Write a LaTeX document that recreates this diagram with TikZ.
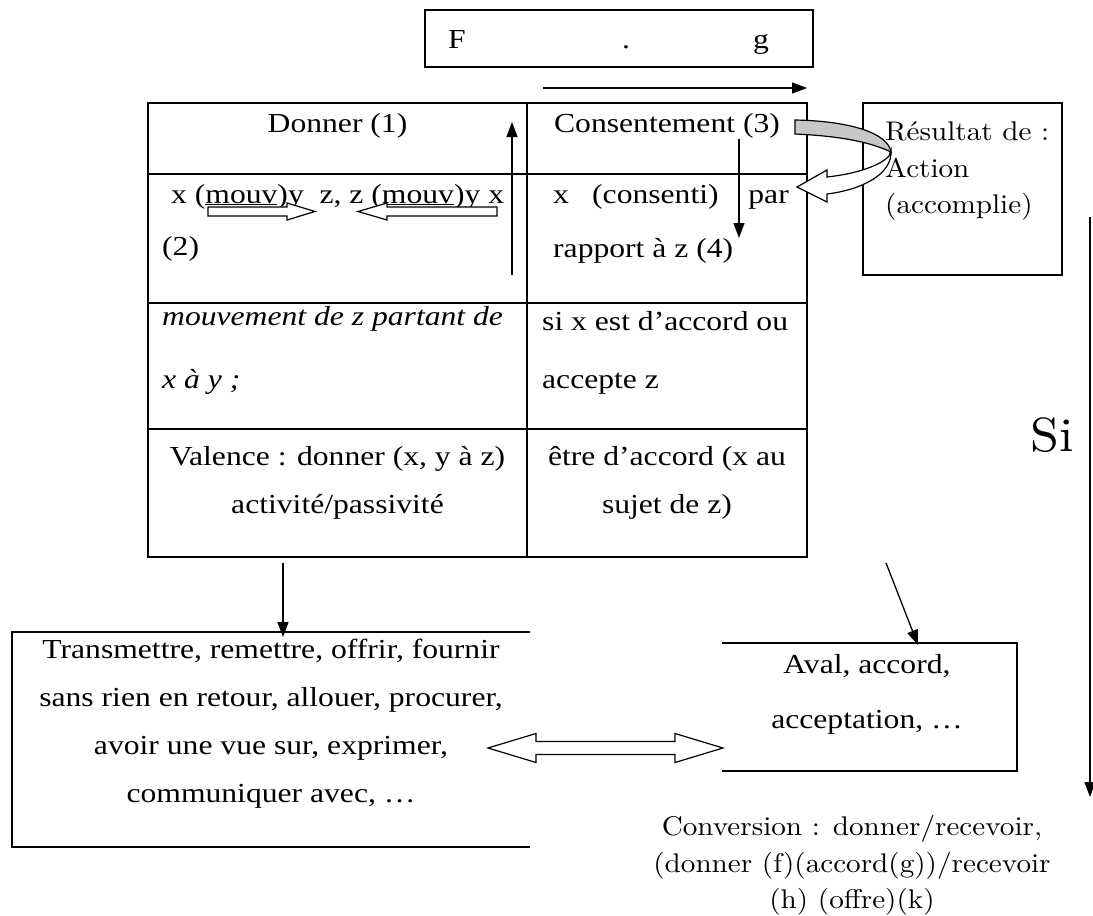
\documentclass[tikz,border=0pt]{standalone}
\usepackage{fontspec}
\setmainfont{Liberation Serif}[FakeStretch=1.15]
\newfontfamily\camb{lmroman10-regular.otf}[FakeStretch=1.08]
\usetikzlibrary{arrows.meta}
\begin{document}
\begin{tikzpicture}[x=1pt,y=-1pt,
  frame/.style={draw,line width=1.6pt},
  txt/.style={inner sep=0pt,font=\fontsize{27.5}{30}\selectfont},
  ctxt/.style={inner sep=0pt,font=\camb\fontsize{27}{30}\selectfont},
  arr/.style={line width=1.3pt,-{Triangle[length=15pt,width=11pt]}},
  hollow/.style={draw,line width=1.2pt,fill=white,line join=miter}]
\useasboundingbox (0,0) rectangle (1093,916);

% top box
\draw[frame] (425,10) rectangle (813,67);
\node[txt,anchor=base west] (F) at (448,48) {F};
\node[txt,anchor=base west] (dot) at (622,48) {.};
\node[txt,anchor=base west] (g) at (753,48) {g};
\coordinate (ta) at (543,88); \coordinate (tb) at (807,88);
\draw[arr] (ta) -- (tb);

% table
\draw[frame] (148,103) rectangle (807,557);
\draw[frame] (527,103) -- (527,557);
\draw[frame] (148,174) -- (807,174);
\draw[frame] (148,303) -- (807,303);
\draw[frame] (148,429) -- (807,429);

\node[txt,anchor=base] (donner) at (337.5,132) {Donner (1)};
\node[txt,anchor=base west] (mouv) at (171,203) {x (\underline{mouv})y\ \ z, z (\underline{mouv})y x};
\node[txt,anchor=base west] (two) at (162,255) {(2)};
\node[txt,anchor=base west] (mv1) at (162,325) {\itshape mouvement de z partant de};
\node[txt,anchor=base west] (mv2) at (162,388) {\itshape x à y ;};
\node[txt,anchor=base] (val1) at (337.5,465) {Valence : donner (x, y à z)};
\node[txt,anchor=base] (val2) at (337.5,513) {activité/passivité};

\node[txt,anchor=base] (cons) at (667,132) {Consentement (3)};
\node[txt,anchor=base west] (cx) at (553,203) {x};
\node[txt,anchor=base west] (cc) at (592,203) {(consenti)};
\node[txt,anchor=base east] (cpar) at (789,203) {par};
\node[txt,anchor=base west] (crap) at (553,257) {rapport à z (4)};
\node[txt,anchor=base west] (si1) at (542,330) {si x est d’accord ou};
\node[txt,anchor=base west] (si2) at (542,388) {accepte z};
\node[txt,anchor=base] (et1) at (667,465) {être d’accord (x au};
\node[txt,anchor=base] (et2) at (667,513) {sujet de z)};

% hollow arrows in row 2
\draw[hollow] (208,207) -- (287,207) -- (287,203) -- (315,211.5) -- (287,220) -- (287,216) -- (208,216) -- cycle;
\draw[hollow] (497,207) -- (387,207) -- (387,203) -- (358,211.5) -- (387,220) -- (387,216) -- (497,216) -- cycle;

% arrows in table
\coordinate (ua) at (512,275); \coordinate (ub) at (512,122);
\draw[arr] (ua) -- (ub);
\coordinate (da) at (739,139); \coordinate (db) at (739,238);
\draw[arr] (da) -- (db);

% Resultat box
\draw[frame,line width=1.3pt] (863,103) rectangle (1062,275);
\node[ctxt,anchor=base west] (r1) at (885,140) {Résultat de :};
\node[ctxt,anchor=base west] (r2) at (885,177) {Action};
\node[ctxt,anchor=base west] (r3) at (885,213) {(accomplie)};

% curved arrow
\draw[hollow] (891,150) .. controls (893,175) and (860,190) .. (827,194) -- (827,202) -- (797,187) -- (827,170) -- (827,177) .. controls (855,174) and (880,166) .. (889,156) -- cycle;
\draw[line width=1.2pt,fill=black!22] (795,120) .. controls (850,121) and (888,133) .. (891,152) .. controls (870,142) and (840,136) .. (795,134) -- cycle;

% right long arrow and Si
\coordinate (va) at (1090,217); \coordinate (vb) at (1090,797);
\draw[arr] (va) -- (vb);
\node[ctxt,font=\camb\fontsize{48}{50}\selectfont] (si) at (1052,435) {Si};

% bottom left box (open right side)
\draw[frame] (530,632) -| (12,847) -- (530,847);
\node[txt,anchor=base] (b1) at (271,658) {Transmettre, remettre, offrir, fournir};
\node[txt,anchor=base] (b2) at (271,706) {sans rien en retour, allouer, procurer,};
\node[txt,anchor=base] (b3) at (271,754) {avoir une vue sur, exprimer,};
\node[txt,anchor=base] (b4) at (271,802) {communiquer avec, …};
\coordinate (la) at (283,563); \coordinate (lb) at (283,637);
\draw[arr] (la) -- (lb);

% Aval box (open left side)
\draw[frame] (722,643) -| (1017,771) -- (722,771);
\node[txt,anchor=base] (a1) at (867,673) {Aval, accord,};
\node[txt,anchor=base] (a2) at (867,728) {acceptation, …};
\coordinate (ra) at (886,563); \coordinate (rb) at (918,645);
\draw[arr] (ra) -- (rb);

% double hollow arrow
\draw[hollow] (488,748) -- (536,733.5) -- (536,741.5) -- (675,741.5) -- (675,733.5) -- (723,748) -- (675,762.5) -- (675,754.5) -- (536,754.5) -- (536,762.5) -- cycle;

% conversion text
\node[ctxt,anchor=base] (c1) at (852,835) {Conversion : donner/recevoir,};
\node[ctxt,anchor=base] (c2) at (852,872) {(donner (f)(accord(g))/recevoir};
\node[ctxt,anchor=base] (c3) at (852,908) {(h) (offre)(k)};
\end{tikzpicture}
\end{document}
